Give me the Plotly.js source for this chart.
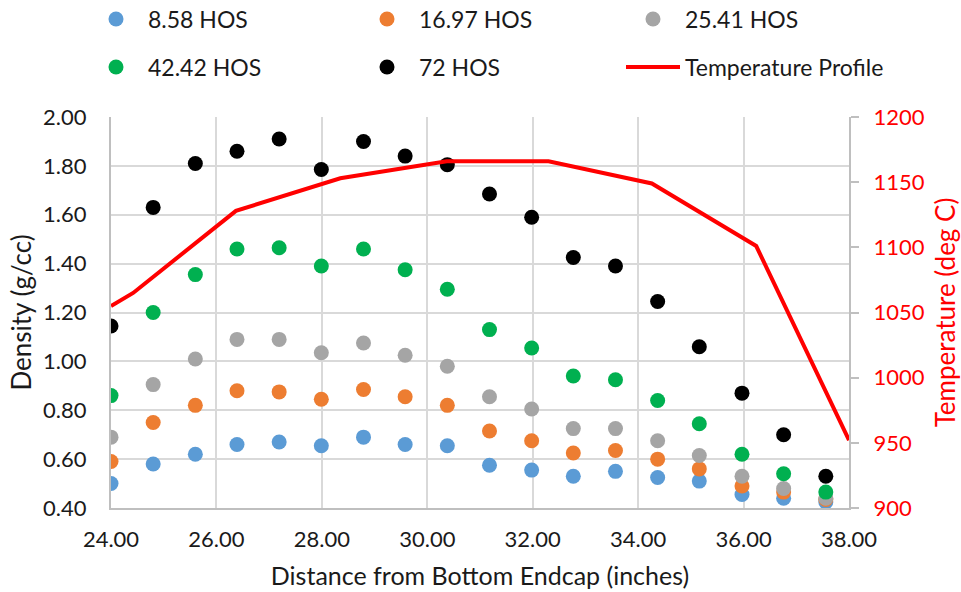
<!DOCTYPE html>
<html>
<head>
<meta charset="utf-8">
<script src="https://cdn.plot.ly/plotly-3.0.1.min.js"></script>
<style>html,body{margin:0;padding:0;background:#fff;}#chart{width:961px;height:592px;}</style>
</head>
<body>
<div id="chart"></div>
<script>
// Distance from bottom endcap (inches)
const distance = [24.00, 24.80, 25.60, 26.39, 27.19, 27.99, 28.79, 29.58, 30.38, 31.18, 31.98, 32.77, 33.57, 34.37, 35.16, 35.97, 36.76, 37.56];
// Density (g/cc) per exposure time
const hos858  = [0.50, 0.58, 0.62, 0.66, 0.67, 0.655, 0.69, 0.66, 0.655, 0.575, 0.555, 0.53, 0.55, 0.525, 0.51, 0.455, 0.44, 0.425];
const hos1697 = [0.59, 0.75, 0.82, 0.88, 0.875, 0.845, 0.885, 0.855, 0.82, 0.715, 0.675, 0.625, 0.635, 0.60, 0.56, 0.49, 0.465, 0.435];
const hos2541 = [0.69, 0.905, 1.01, 1.09, 1.09, 1.035, 1.075, 1.025, 0.98, 0.855, 0.805, 0.725, 0.725, 0.675, 0.615, 0.53, 0.48, 0.44];
const hos4242 = [0.86, 1.20, 1.355, 1.46, 1.465, 1.39, 1.46, 1.375, 1.295, 1.13, 1.055, 0.94, 0.925, 0.84, 0.745, 0.62, 0.54, 0.465];
const hos72   = [1.145, 1.63, 1.81, 1.86, 1.91, 1.785, 1.90, 1.84, 1.805, 1.685, 1.59, 1.425, 1.39, 1.245, 1.06, 0.87, 0.70, 0.53];
// Temperature profile (deg C)
const tempDistance = [24.00, 24.42, 26.37, 28.35, 30.37, 32.30, 34.26, 36.24, 38.00];
const tempValues   = [1055, 1065, 1128, 1153, 1166, 1166, 1149, 1101, 952];

const seriesNames = ['8.58 HOS', '16.97 HOS', '25.41 HOS', '42.42 HOS', '72 HOS'];
const seriesData = [hos858, hos1697, hos2541, hos4242, hos72];
const seriesColors = ['#5B9BD5', '#ED7D31', '#A5A5A5', '#00B050', '#000000'];
const legendIds = ['legend', 'legend2', 'legend3', 'legend4', 'legend5', 'legend6'];

const FONT = 'Lato, "Open Sans", sans-serif';
const TXT = '#1a1a1a';
const traces = seriesData.map((ys, i) => ({
  type: 'scatter', mode: 'markers', name: seriesNames[i],
  x: distance, y: ys, xaxis: 'x', yaxis: 'y',
  marker: {color: seriesColors[i], size: 15},
  legend: legendIds[i]
}));
traces.push({
  type: 'scatter', mode: 'lines', name: 'Temperature Profile',
  x: tempDistance, y: tempValues, xaxis: 'x', yaxis: 'y2',
  line: {color: '#FF0000', width: 4},
  legend: legendIds[5]
});

// legend slot positions (text start x, row centre y) in pixels
const slotTextX = [148, 419, 685];
const slotRowY = [19, 67];

const layout = {
  width: 961, height: 592,
  margin: {l: 111, r: 112, t: 117, b: 84},
  paper_bgcolor: '#ffffff', plot_bgcolor: '#ffffff',
  font: {family: FONT, size: 22, color: TXT},
  showlegend: true,
  xaxis: {
    range: [24, 38], dtick: 2, tick0: 24, tickformat: '.2f',
    showgrid: true, gridcolor: '#d9d9d9', gridwidth: 2,
    showline: true, linecolor: '#bfbfbf', linewidth: 2,
    zeroline: false, ticks: '', ticklabelstandoff: 11,
    tickfont: {family: FONT, size: 22, color: TXT},
    title: {text: 'Distance from Bottom Endcap (inches)', font: {family: FONT, size: 25, color: TXT}, standoff: 16}
  },
  yaxis: {
    range: [0.4, 2.0], dtick: 0.2, tick0: 0.4, tickformat: '.2f',
    showgrid: true, gridcolor: '#d9d9d9', gridwidth: 2,
    showline: true, linecolor: '#bfbfbf', linewidth: 2,
    zeroline: false, ticks: '', ticklabelstandoff: 18,
    tickfont: {family: FONT, size: 22, color: TXT},
    title: {text: 'Density (g/cc)', font: {family: FONT, size: 26, color: TXT}, standoff: 4}
  },
  yaxis2: {
    overlaying: 'y', side: 'right', anchor: 'x',
    range: [900, 1200], dtick: 50, tick0: 900,
    showgrid: false, zeroline: false,
    showline: true, linecolor: '#bfbfbf', linewidth: 2,
    ticks: 'outside', ticklen: 8, tickwidth: 2, tickcolor: '#bfbfbf', ticklabelstandoff: 10,
    tickfont: {family: FONT, size: 22, color: '#FF0000'},
    title: {text: 'Temperature (deg C)', font: {family: FONT, size: 26, color: '#FF0000'}, standoff: 16}
  }
};

legendIds.forEach((id, k) => {
  const col = k % 3, row = Math.floor(k / 3);
  layout[id] = {
    orientation: 'h', xref: 'container', yref: 'container',
    x: (slotTextX[col] - 64) / 961, xanchor: 'left',
    y: 1 - slotRowY[row] / 592, yanchor: 'middle',
    itemwidth: 54,
    font: {family: FONT, size: 23, color: TXT},
    bgcolor: 'rgba(0,0,0,0)', borderwidth: 0
  };
});

Plotly.newPlot('chart', traces, layout, {displayModeBar: false, staticPlot: true});
</script>
</body>
</html>
